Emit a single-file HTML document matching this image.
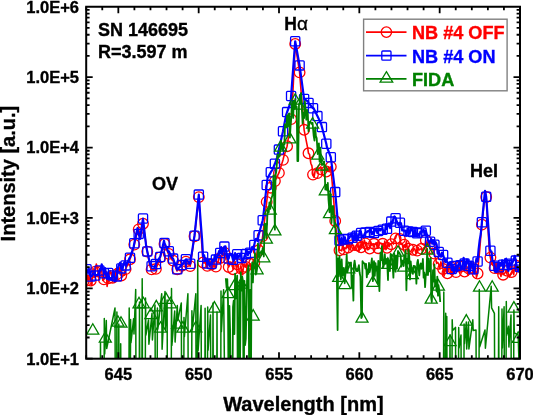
<!DOCTYPE html>
<html><head><meta charset="utf-8"><style>
html,body{margin:0;padding:0;background:#fff;width:533px;height:415px;overflow:hidden}
svg{display:block;will-change:transform;filter:blur(0.35px)}
text{font-family:"Liberation Sans", sans-serif;stroke:currentColor;stroke-width:0.35px;paint-order:stroke}
</style></head><body><svg width="533" height="415" viewBox="0 0 533 415" font-family='"Liberation Sans", sans-serif'><defs><clipPath id="pc"><rect x="86.2" y="6.75" width="433.8" height="351.95"/></clipPath></defs><g clip-path="url(#pc)"><polyline points="86.5,280.6 87.6,275.3 88.7,283.3 89.8,273.8 90.8,280.5 91.9,285.5 93.0,268.4 94.1,277.5 95.2,271.6 96.3,264.0 97.4,267.8 98.5,276.8 99.5,271.9 100.6,268.2 101.7,270.5 102.8,280.5 103.9,279.4 105.0,277.3 106.1,271.6 107.1,286.4 108.2,278.4 109.3,272.6 110.4,270.6 111.5,275.4 112.6,277.7 113.7,278.6 114.8,279.8 115.8,268.8 116.9,274.1 118.0,271.8 119.1,267.3 120.2,274.4 121.3,275.5 122.4,277.0 123.4,275.1 124.5,275.3 125.6,269.1 130.0,259.3 134.0,247.0 134.3,244.6 138.3,228.0 138.7,229.4 140.5,238.0 143.0,223.7 146.4,246.0 147.3,251.6 150.2,267.0 151.6,269.4 154.8,270.0 155.9,268.9 159.7,259.0 160.2,257.4 164.0,243.0 164.5,244.0 168.4,254.0 168.8,253.9 172.2,260.0 173.1,260.6 177.0,271.0 177.3,269.2 181.6,265.7 185.9,261.6 190.2,266.1 194.5,236.2 198.8,197.1 199.9,215.2 200.9,232.3 202.0,247.5 203.1,262.5 204.1,263.0 205.2,261.2 206.3,266.8 207.3,265.9 208.4,263.1 209.5,259.9 210.5,263.9 211.6,264.2 212.7,269.6 213.8,260.6 214.8,267.1 215.9,266.6 217.0,263.1 218.0,262.5 219.1,255.6 220.2,258.0 221.2,262.6 222.3,252.2 223.4,255.3 224.4,252.6 225.5,255.2 226.6,253.6 227.6,264.2 228.7,267.0 229.8,263.0 230.8,262.4 231.9,262.7 233.0,269.2 234.0,263.6 235.1,261.5 236.2,267.2 237.2,264.2 238.3,265.5 239.4,272.8 240.4,273.3 241.5,268.9 242.6,274.8 243.7,264.5 244.7,266.7 245.8,266.9 246.9,262.9 247.9,266.5 249.0,266.2 250.1,263.8 251.1,267.4 252.2,265.9 253.3,259.8 254.3,262.7 255.4,258.9 256.5,256.7 257.5,249.4 258.6,250.3 262.0,241.0 262.7,236.1 266.7,201.9 268.1,191.0 270.8,187.7 274.9,181.1 278.9,172.9 283.0,159.9 283.7,157.0 287.1,146.2 291.1,119.1 291.9,114.0 295.2,44.0 299.6,72.4 304.1,129.8 307.8,148.6 308.5,153.3 309.6,154.6 310.8,163.2 311.9,165.9 313.0,174.6 314.1,177.1 315.2,170.5 316.3,168.4 317.4,173.1 318.5,168.2 319.6,167.9 320.8,166.8 321.9,169.6 323.0,170.3 324.1,170.1 325.2,168.8 326.3,171.5 327.4,171.2 328.5,167.2 329.6,170.6 330.8,166.7 333.7,200.0 335.2,221.0 336.3,231.6 337.4,237.3 338.4,242.5 339.5,250.3 340.6,250.2 341.7,250.8 342.8,244.6 343.8,249.4 344.9,248.0 346.0,248.7 347.1,244.4 348.1,247.5 349.2,242.3 350.3,249.7 351.4,244.2 352.5,245.1 353.5,245.3 354.6,249.8 355.7,246.4 356.8,245.2 357.9,243.4 358.9,251.7 360.0,245.4 361.1,247.3 362.2,241.0 363.2,247.5 364.3,240.0 365.4,243.4 366.5,242.5 367.6,249.8 368.6,249.2 369.7,248.5 370.8,241.9 371.9,245.6 372.9,244.0 374.0,243.8 375.1,244.7 376.2,242.7 377.3,248.1 378.3,248.2 379.4,242.3 380.5,243.5 381.6,243.4 382.7,243.8 383.7,249.7 384.8,241.0 385.9,249.7 387.0,247.8 388.1,243.4 389.1,246.8 390.2,243.9 391.3,244.2 392.4,242.3 393.4,244.1 394.5,238.7 395.6,238.4 396.7,234.3 397.8,234.4 398.8,234.1 399.9,238.9 401.0,244.3 402.1,243.4 403.1,248.4 404.2,244.7 405.3,247.8 406.4,241.3 407.5,249.4 408.5,248.6 409.6,252.0 410.7,251.7 411.8,249.5 412.9,249.8 413.9,248.4 415.0,249.7 416.1,253.7 417.2,250.6 418.2,247.5 419.3,250.0 420.4,249.0 421.5,248.8 422.6,251.7 423.6,247.9 424.7,247.2 425.8,240.2 426.9,245.9 428.0,241.8 429.0,243.0 430.1,248.0 431.2,249.3 432.3,248.1 433.4,251.4 434.4,253.6 435.5,258.2 436.6,263.4 437.7,262.3 438.7,263.9 439.8,268.8 440.9,261.9 442.0,266.1 443.1,269.0 444.1,276.0 445.2,266.9 446.3,271.2 447.4,273.3 448.4,266.3 449.5,265.2 450.6,274.1 451.7,267.6 452.8,275.0 453.9,271.8 454.9,266.2 456.0,272.1 457.1,268.2 458.1,266.0 459.2,270.2 460.3,266.7 461.4,270.2 462.5,268.3 463.6,270.6 464.6,271.5 465.7,265.8 466.8,270.6 467.9,275.1 468.9,268.6 470.0,271.8 471.1,263.2 472.2,268.5 473.3,268.2 474.3,272.3 475.4,267.8 476.5,277.2 477.6,273.5 478.6,261.0 479.7,250.5 480.8,236.1 481.9,224.6 485.2,192.0 486.2,197.0 489.5,254.0 490.4,257.6 491.5,263.8 492.5,264.9 493.6,266.0 494.6,268.1 495.7,263.7 496.8,267.6 497.8,262.4 498.9,268.6 499.9,271.3 501.0,276.5 502.1,269.1 503.1,274.7 504.2,273.9 505.2,272.5 506.3,270.5 507.3,270.8 508.4,273.8 509.4,277.0 510.5,274.3 511.6,272.0 512.6,270.0 513.7,274.6 514.7,264.9 515.8,265.4 516.8,268.9 517.9,268.2 518.9,269.9 520.0,266.9" fill="none" stroke="#ff0000" stroke-width="1.6" stroke-linejoin="round"/><circle cx="86.5" cy="280.6" r="5.3" fill="none" stroke="#ff0000" stroke-width="1.3"/><circle cx="90.8" cy="280.5" r="5.3" fill="none" stroke="#ff0000" stroke-width="1.3"/><circle cx="95.2" cy="271.6" r="5.3" fill="none" stroke="#ff0000" stroke-width="1.3"/><circle cx="99.5" cy="271.9" r="5.3" fill="none" stroke="#ff0000" stroke-width="1.3"/><circle cx="103.9" cy="279.4" r="5.3" fill="none" stroke="#ff0000" stroke-width="1.3"/><circle cx="108.2" cy="278.4" r="5.3" fill="none" stroke="#ff0000" stroke-width="1.3"/><circle cx="112.6" cy="277.7" r="5.3" fill="none" stroke="#ff0000" stroke-width="1.3"/><circle cx="116.9" cy="274.1" r="5.3" fill="none" stroke="#ff0000" stroke-width="1.3"/><circle cx="121.3" cy="275.5" r="5.3" fill="none" stroke="#ff0000" stroke-width="1.3"/><circle cx="125.6" cy="269.1" r="5.3" fill="none" stroke="#ff0000" stroke-width="1.3"/><circle cx="130.0" cy="259.3" r="5.3" fill="none" stroke="#ff0000" stroke-width="1.3"/><circle cx="134.3" cy="244.6" r="5.3" fill="none" stroke="#ff0000" stroke-width="1.3"/><circle cx="138.7" cy="229.4" r="5.3" fill="none" stroke="#ff0000" stroke-width="1.3"/><circle cx="143.0" cy="223.7" r="5.3" fill="none" stroke="#ff0000" stroke-width="1.3"/><circle cx="147.3" cy="251.6" r="5.3" fill="none" stroke="#ff0000" stroke-width="1.3"/><circle cx="151.6" cy="269.4" r="5.3" fill="none" stroke="#ff0000" stroke-width="1.3"/><circle cx="155.9" cy="268.9" r="5.3" fill="none" stroke="#ff0000" stroke-width="1.3"/><circle cx="160.2" cy="257.4" r="5.3" fill="none" stroke="#ff0000" stroke-width="1.3"/><circle cx="164.5" cy="244.0" r="5.3" fill="none" stroke="#ff0000" stroke-width="1.3"/><circle cx="168.8" cy="253.9" r="5.3" fill="none" stroke="#ff0000" stroke-width="1.3"/><circle cx="173.1" cy="260.6" r="5.3" fill="none" stroke="#ff0000" stroke-width="1.3"/><circle cx="177.3" cy="269.2" r="5.3" fill="none" stroke="#ff0000" stroke-width="1.3"/><circle cx="181.6" cy="265.7" r="5.3" fill="none" stroke="#ff0000" stroke-width="1.3"/><circle cx="185.9" cy="261.6" r="5.3" fill="none" stroke="#ff0000" stroke-width="1.3"/><circle cx="190.2" cy="266.1" r="5.3" fill="none" stroke="#ff0000" stroke-width="1.3"/><circle cx="194.5" cy="236.2" r="5.3" fill="none" stroke="#ff0000" stroke-width="1.3"/><circle cx="198.8" cy="197.1" r="5.3" fill="none" stroke="#ff0000" stroke-width="1.3"/><circle cx="203.1" cy="262.5" r="5.3" fill="none" stroke="#ff0000" stroke-width="1.3"/><circle cx="207.3" cy="265.9" r="5.3" fill="none" stroke="#ff0000" stroke-width="1.3"/><circle cx="211.6" cy="264.2" r="5.3" fill="none" stroke="#ff0000" stroke-width="1.3"/><circle cx="215.9" cy="266.6" r="5.3" fill="none" stroke="#ff0000" stroke-width="1.3"/><circle cx="220.2" cy="258.0" r="5.3" fill="none" stroke="#ff0000" stroke-width="1.3"/><circle cx="224.4" cy="252.6" r="5.3" fill="none" stroke="#ff0000" stroke-width="1.3"/><circle cx="228.7" cy="267.0" r="5.3" fill="none" stroke="#ff0000" stroke-width="1.3"/><circle cx="233.0" cy="269.2" r="5.3" fill="none" stroke="#ff0000" stroke-width="1.3"/><circle cx="237.2" cy="264.2" r="5.3" fill="none" stroke="#ff0000" stroke-width="1.3"/><circle cx="241.5" cy="268.9" r="5.3" fill="none" stroke="#ff0000" stroke-width="1.3"/><circle cx="245.8" cy="266.9" r="5.3" fill="none" stroke="#ff0000" stroke-width="1.3"/><circle cx="250.1" cy="263.8" r="5.3" fill="none" stroke="#ff0000" stroke-width="1.3"/><circle cx="254.3" cy="262.7" r="5.3" fill="none" stroke="#ff0000" stroke-width="1.3"/><circle cx="258.6" cy="250.3" r="5.3" fill="none" stroke="#ff0000" stroke-width="1.3"/><circle cx="262.7" cy="236.1" r="5.3" fill="none" stroke="#ff0000" stroke-width="1.3"/><circle cx="266.7" cy="201.9" r="5.3" fill="none" stroke="#ff0000" stroke-width="1.3"/><circle cx="270.8" cy="187.7" r="5.3" fill="none" stroke="#ff0000" stroke-width="1.3"/><circle cx="274.9" cy="181.1" r="5.3" fill="none" stroke="#ff0000" stroke-width="1.3"/><circle cx="278.9" cy="172.9" r="5.3" fill="none" stroke="#ff0000" stroke-width="1.3"/><circle cx="283.0" cy="159.9" r="5.3" fill="none" stroke="#ff0000" stroke-width="1.3"/><circle cx="287.1" cy="146.2" r="5.3" fill="none" stroke="#ff0000" stroke-width="1.3"/><circle cx="291.1" cy="119.1" r="5.3" fill="none" stroke="#ff0000" stroke-width="1.3"/><circle cx="295.2" cy="44.0" r="5.3" fill="none" stroke="#ff0000" stroke-width="1.3"/><circle cx="299.6" cy="72.4" r="5.3" fill="none" stroke="#ff0000" stroke-width="1.3"/><circle cx="304.1" cy="129.8" r="5.3" fill="none" stroke="#ff0000" stroke-width="1.3"/><circle cx="308.5" cy="153.3" r="5.3" fill="none" stroke="#ff0000" stroke-width="1.3"/><circle cx="313.0" cy="174.6" r="5.3" fill="none" stroke="#ff0000" stroke-width="1.3"/><circle cx="317.4" cy="173.1" r="5.3" fill="none" stroke="#ff0000" stroke-width="1.3"/><circle cx="321.9" cy="169.6" r="5.3" fill="none" stroke="#ff0000" stroke-width="1.3"/><circle cx="326.3" cy="171.5" r="5.3" fill="none" stroke="#ff0000" stroke-width="1.3"/><circle cx="330.8" cy="166.7" r="5.3" fill="none" stroke="#ff0000" stroke-width="1.3"/><circle cx="335.2" cy="221.0" r="5.3" fill="none" stroke="#ff0000" stroke-width="1.3"/><circle cx="339.5" cy="250.3" r="5.3" fill="none" stroke="#ff0000" stroke-width="1.3"/><circle cx="343.8" cy="249.4" r="5.3" fill="none" stroke="#ff0000" stroke-width="1.3"/><circle cx="348.1" cy="247.5" r="5.3" fill="none" stroke="#ff0000" stroke-width="1.3"/><circle cx="352.5" cy="245.1" r="5.3" fill="none" stroke="#ff0000" stroke-width="1.3"/><circle cx="356.8" cy="245.2" r="5.3" fill="none" stroke="#ff0000" stroke-width="1.3"/><circle cx="361.1" cy="247.3" r="5.3" fill="none" stroke="#ff0000" stroke-width="1.3"/><circle cx="365.4" cy="243.4" r="5.3" fill="none" stroke="#ff0000" stroke-width="1.3"/><circle cx="369.7" cy="248.5" r="5.3" fill="none" stroke="#ff0000" stroke-width="1.3"/><circle cx="374.0" cy="243.8" r="5.3" fill="none" stroke="#ff0000" stroke-width="1.3"/><circle cx="378.3" cy="248.2" r="5.3" fill="none" stroke="#ff0000" stroke-width="1.3"/><circle cx="382.7" cy="243.8" r="5.3" fill="none" stroke="#ff0000" stroke-width="1.3"/><circle cx="387.0" cy="247.8" r="5.3" fill="none" stroke="#ff0000" stroke-width="1.3"/><circle cx="391.3" cy="244.2" r="5.3" fill="none" stroke="#ff0000" stroke-width="1.3"/><circle cx="395.6" cy="238.4" r="5.3" fill="none" stroke="#ff0000" stroke-width="1.3"/><circle cx="399.9" cy="238.9" r="5.3" fill="none" stroke="#ff0000" stroke-width="1.3"/><circle cx="404.2" cy="244.7" r="5.3" fill="none" stroke="#ff0000" stroke-width="1.3"/><circle cx="408.5" cy="248.6" r="5.3" fill="none" stroke="#ff0000" stroke-width="1.3"/><circle cx="412.9" cy="249.8" r="5.3" fill="none" stroke="#ff0000" stroke-width="1.3"/><circle cx="417.2" cy="250.6" r="5.3" fill="none" stroke="#ff0000" stroke-width="1.3"/><circle cx="421.5" cy="248.8" r="5.3" fill="none" stroke="#ff0000" stroke-width="1.3"/><circle cx="425.8" cy="240.2" r="5.3" fill="none" stroke="#ff0000" stroke-width="1.3"/><circle cx="430.1" cy="248.0" r="5.3" fill="none" stroke="#ff0000" stroke-width="1.3"/><circle cx="434.4" cy="253.6" r="5.3" fill="none" stroke="#ff0000" stroke-width="1.3"/><circle cx="438.7" cy="263.9" r="5.3" fill="none" stroke="#ff0000" stroke-width="1.3"/><circle cx="443.1" cy="269.0" r="5.3" fill="none" stroke="#ff0000" stroke-width="1.3"/><circle cx="447.4" cy="273.3" r="5.3" fill="none" stroke="#ff0000" stroke-width="1.3"/><circle cx="451.7" cy="267.6" r="5.3" fill="none" stroke="#ff0000" stroke-width="1.3"/><circle cx="456.0" cy="272.1" r="5.3" fill="none" stroke="#ff0000" stroke-width="1.3"/><circle cx="460.3" cy="266.7" r="5.3" fill="none" stroke="#ff0000" stroke-width="1.3"/><circle cx="464.6" cy="271.5" r="5.3" fill="none" stroke="#ff0000" stroke-width="1.3"/><circle cx="468.9" cy="268.6" r="5.3" fill="none" stroke="#ff0000" stroke-width="1.3"/><circle cx="473.3" cy="268.2" r="5.3" fill="none" stroke="#ff0000" stroke-width="1.3"/><circle cx="477.6" cy="273.5" r="5.3" fill="none" stroke="#ff0000" stroke-width="1.3"/><circle cx="481.9" cy="224.6" r="5.3" fill="none" stroke="#ff0000" stroke-width="1.3"/><circle cx="486.2" cy="197.0" r="5.3" fill="none" stroke="#ff0000" stroke-width="1.3"/><circle cx="490.4" cy="257.6" r="5.3" fill="none" stroke="#ff0000" stroke-width="1.3"/><circle cx="494.6" cy="268.1" r="5.3" fill="none" stroke="#ff0000" stroke-width="1.3"/><circle cx="498.9" cy="268.6" r="5.3" fill="none" stroke="#ff0000" stroke-width="1.3"/><circle cx="503.1" cy="274.7" r="5.3" fill="none" stroke="#ff0000" stroke-width="1.3"/><circle cx="507.3" cy="270.8" r="5.3" fill="none" stroke="#ff0000" stroke-width="1.3"/><circle cx="511.6" cy="272.0" r="5.3" fill="none" stroke="#ff0000" stroke-width="1.3"/><circle cx="515.8" cy="265.4" r="5.3" fill="none" stroke="#ff0000" stroke-width="1.3"/><circle cx="520.0" cy="266.9" r="5.3" fill="none" stroke="#ff0000" stroke-width="1.3"/><polyline points="86.5,269.3 87.6,272.2 88.7,268.1 89.8,274.8 90.8,276.5 91.9,276.0 93.0,273.8 94.1,273.4 95.2,275.6 96.3,275.0 97.4,275.1 98.5,273.6 99.5,270.6 100.6,270.6 101.7,264.3 102.8,268.2 103.9,273.2 105.0,268.0 106.1,274.5 107.1,278.9 108.2,273.0 109.3,278.4 110.4,278.9 111.5,279.8 112.6,275.4 113.7,271.7 114.8,281.4 115.8,278.9 116.9,276.4 118.0,267.7 119.1,264.7 120.2,262.6 121.3,268.4 122.4,270.3 123.4,264.3 124.5,262.0 125.6,265.4 126.0,266.0 129.5,258.0 130.0,257.7 133.7,246.5 134.3,243.3 137.5,228.0 138.7,233.9 140.0,239.0 143.0,218.5 146.2,246.5 147.3,251.4 150.2,265.0 151.6,266.3 154.8,267.0 155.9,264.1 159.7,257.5 160.2,257.0 164.0,240.7 164.5,243.1 168.4,252.0 168.8,251.2 172.2,258.0 173.1,258.6 177.0,269.6 177.3,269.3 181.6,265.1 185.9,259.3 190.2,263.7 194.5,235.7 198.8,194.6 199.9,210.9 200.9,224.7 202.0,238.4 203.1,256.7 204.1,255.2 205.2,260.4 206.3,258.7 207.3,263.6 208.4,261.1 209.5,266.1 210.5,263.4 211.6,264.0 212.7,260.9 213.8,261.5 214.8,255.3 215.9,259.6 217.0,256.7 218.0,255.4 219.1,251.1 220.2,253.0 221.2,247.0 222.3,254.3 223.4,248.3 224.4,246.6 225.5,246.3 226.6,253.8 227.6,259.1 228.7,258.6 229.8,253.5 230.8,253.8 231.9,255.5 233.0,259.7 234.0,260.8 235.1,253.2 236.2,257.9 237.2,254.3 238.3,257.2 239.4,256.6 240.4,253.8 241.5,257.9 242.6,262.2 243.7,259.3 244.7,255.2 245.8,254.1 246.9,250.7 247.9,255.1 249.0,252.0 250.1,252.8 251.1,251.7 252.2,246.9 253.3,248.4 254.3,244.9 255.4,239.3 256.5,238.7 257.5,241.1 258.6,235.3 262.7,220.3 263.1,218.0 266.7,185.0 267.6,178.1 270.8,172.2 272.3,170.0 274.9,163.8 276.9,158.0 278.9,149.6 281.5,138.0 283.0,131.3 286.1,115.0 287.1,112.0 290.6,102.5 291.1,96.0 295.2,41.3 299.6,65.4 304.1,98.9 308.0,101.5 308.5,102.9 313.0,108.2 313.6,108.2 317.4,116.1 321.0,123.5 321.9,127.1 326.3,143.7 326.9,147.0 330.8,157.2 335.2,192.1 339.5,240.4 340.6,243.7 341.7,237.9 342.8,242.9 343.8,239.1 344.9,237.3 346.0,243.4 347.1,241.5 348.1,239.2 349.2,238.0 350.3,236.1 351.4,233.3 352.5,237.7 353.5,240.8 354.6,232.2 355.7,239.2 356.8,235.7 357.9,239.5 358.9,235.0 360.0,230.5 361.1,233.0 362.2,236.4 363.2,237.3 364.3,234.6 365.4,232.6 366.5,232.5 367.6,231.2 368.6,230.8 369.7,232.1 370.8,229.5 371.9,234.3 372.9,232.2 374.0,233.1 375.1,229.7 376.2,228.3 377.3,233.1 378.3,231.0 379.4,228.7 380.5,230.3 381.6,228.3 382.7,229.7 383.7,233.0 384.8,233.1 385.9,224.4 387.0,228.8 388.1,224.1 389.1,223.5 390.2,228.1 391.3,221.6 392.4,223.5 393.4,218.4 394.5,216.4 395.6,218.3 396.7,221.1 397.8,223.8 398.8,225.7 399.9,222.7 401.0,223.2 402.1,230.3 403.1,230.4 404.2,230.7 405.3,230.7 406.4,235.7 407.5,228.6 408.5,231.4 409.6,233.7 410.7,227.8 411.8,228.8 412.9,232.1 413.9,236.3 415.0,229.9 416.1,235.5 417.2,233.3 418.2,234.1 419.3,236.2 420.4,231.5 421.5,232.6 422.6,230.6 423.6,229.7 424.7,234.7 425.8,230.7 426.9,234.5 428.0,240.6 429.0,242.6 430.1,241.7 431.2,238.9 432.3,243.7 433.4,240.2 434.4,244.8 435.5,242.1 436.6,244.2 437.7,253.6 438.7,251.9 439.8,255.4 440.9,256.6 442.0,252.7 443.1,255.0 444.1,258.2 445.2,262.0 446.3,259.4 447.4,262.7 448.4,265.2 449.5,262.4 450.6,262.2 451.7,269.1 452.8,265.4 453.9,272.6 454.9,267.7 456.0,266.1 457.1,271.3 458.1,265.1 459.2,262.6 460.3,265.2 461.4,268.5 462.5,268.6 463.6,257.8 464.6,263.6 465.7,266.4 466.8,259.5 467.9,260.4 468.9,265.9 470.0,271.6 471.1,261.6 472.2,265.0 473.3,269.2 474.3,273.5 475.4,264.3 476.5,258.5 477.6,261.6 478.6,249.3 479.7,240.1 480.8,233.8 481.9,222.3 485.0,190.8 486.2,196.8 489.9,248.7 490.4,250.8 491.5,251.7 492.5,261.2 493.6,261.2 494.6,265.8 495.7,272.2 496.8,271.8 497.8,264.3 498.9,267.3 499.9,263.5 501.0,265.8 502.1,260.3 503.1,264.8 504.2,266.8 505.2,259.0 506.3,258.7 507.3,265.0 508.4,270.9 509.4,261.8 510.5,265.3 511.6,263.8 512.6,262.3 513.7,259.8 514.7,255.8 515.8,260.6 516.8,267.5 517.9,269.8 518.9,271.4 520.0,267.0" fill="none" stroke="#0000ff" stroke-width="2.2" stroke-linejoin="round"/><rect x="81.9" y="264.7" width="9.2" height="9.2" rx="1" fill="none" stroke="#0000ff" stroke-width="1.3"/><rect x="86.2" y="271.9" width="9.2" height="9.2" rx="1" fill="none" stroke="#0000ff" stroke-width="1.3"/><rect x="90.6" y="271.0" width="9.2" height="9.2" rx="1" fill="none" stroke="#0000ff" stroke-width="1.3"/><rect x="94.9" y="265.9" width="9.2" height="9.2" rx="1" fill="none" stroke="#0000ff" stroke-width="1.3"/><rect x="99.3" y="268.6" width="9.2" height="9.2" rx="1" fill="none" stroke="#0000ff" stroke-width="1.3"/><rect x="103.6" y="268.4" width="9.2" height="9.2" rx="1" fill="none" stroke="#0000ff" stroke-width="1.3"/><rect x="108.0" y="270.8" width="9.2" height="9.2" rx="1" fill="none" stroke="#0000ff" stroke-width="1.3"/><rect x="112.3" y="271.8" width="9.2" height="9.2" rx="1" fill="none" stroke="#0000ff" stroke-width="1.3"/><rect x="116.7" y="263.8" width="9.2" height="9.2" rx="1" fill="none" stroke="#0000ff" stroke-width="1.3"/><rect x="121.0" y="260.8" width="9.2" height="9.2" rx="1" fill="none" stroke="#0000ff" stroke-width="1.3"/><rect x="125.4" y="253.1" width="9.2" height="9.2" rx="1" fill="none" stroke="#0000ff" stroke-width="1.3"/><rect x="129.7" y="238.7" width="9.2" height="9.2" rx="1" fill="none" stroke="#0000ff" stroke-width="1.3"/><rect x="134.1" y="229.3" width="9.2" height="9.2" rx="1" fill="none" stroke="#0000ff" stroke-width="1.3"/><rect x="138.4" y="213.9" width="9.2" height="9.2" rx="1" fill="none" stroke="#0000ff" stroke-width="1.3"/><rect x="142.7" y="246.8" width="9.2" height="9.2" rx="1" fill="none" stroke="#0000ff" stroke-width="1.3"/><rect x="147.0" y="261.7" width="9.2" height="9.2" rx="1" fill="none" stroke="#0000ff" stroke-width="1.3"/><rect x="151.3" y="259.5" width="9.2" height="9.2" rx="1" fill="none" stroke="#0000ff" stroke-width="1.3"/><rect x="155.6" y="252.4" width="9.2" height="9.2" rx="1" fill="none" stroke="#0000ff" stroke-width="1.3"/><rect x="159.9" y="238.5" width="9.2" height="9.2" rx="1" fill="none" stroke="#0000ff" stroke-width="1.3"/><rect x="164.2" y="246.6" width="9.2" height="9.2" rx="1" fill="none" stroke="#0000ff" stroke-width="1.3"/><rect x="168.5" y="254.0" width="9.2" height="9.2" rx="1" fill="none" stroke="#0000ff" stroke-width="1.3"/><rect x="172.7" y="264.7" width="9.2" height="9.2" rx="1" fill="none" stroke="#0000ff" stroke-width="1.3"/><rect x="177.0" y="260.5" width="9.2" height="9.2" rx="1" fill="none" stroke="#0000ff" stroke-width="1.3"/><rect x="181.3" y="254.7" width="9.2" height="9.2" rx="1" fill="none" stroke="#0000ff" stroke-width="1.3"/><rect x="185.6" y="259.1" width="9.2" height="9.2" rx="1" fill="none" stroke="#0000ff" stroke-width="1.3"/><rect x="189.9" y="231.1" width="9.2" height="9.2" rx="1" fill="none" stroke="#0000ff" stroke-width="1.3"/><rect x="194.2" y="190.0" width="9.2" height="9.2" rx="1" fill="none" stroke="#0000ff" stroke-width="1.3"/><rect x="198.5" y="252.1" width="9.2" height="9.2" rx="1" fill="none" stroke="#0000ff" stroke-width="1.3"/><rect x="202.7" y="259.0" width="9.2" height="9.2" rx="1" fill="none" stroke="#0000ff" stroke-width="1.3"/><rect x="207.0" y="259.4" width="9.2" height="9.2" rx="1" fill="none" stroke="#0000ff" stroke-width="1.3"/><rect x="211.3" y="255.0" width="9.2" height="9.2" rx="1" fill="none" stroke="#0000ff" stroke-width="1.3"/><rect x="215.6" y="248.4" width="9.2" height="9.2" rx="1" fill="none" stroke="#0000ff" stroke-width="1.3"/><rect x="219.8" y="242.0" width="9.2" height="9.2" rx="1" fill="none" stroke="#0000ff" stroke-width="1.3"/><rect x="224.1" y="254.0" width="9.2" height="9.2" rx="1" fill="none" stroke="#0000ff" stroke-width="1.3"/><rect x="228.4" y="255.1" width="9.2" height="9.2" rx="1" fill="none" stroke="#0000ff" stroke-width="1.3"/><rect x="232.6" y="249.7" width="9.2" height="9.2" rx="1" fill="none" stroke="#0000ff" stroke-width="1.3"/><rect x="236.9" y="253.3" width="9.2" height="9.2" rx="1" fill="none" stroke="#0000ff" stroke-width="1.3"/><rect x="241.2" y="249.5" width="9.2" height="9.2" rx="1" fill="none" stroke="#0000ff" stroke-width="1.3"/><rect x="245.5" y="248.2" width="9.2" height="9.2" rx="1" fill="none" stroke="#0000ff" stroke-width="1.3"/><rect x="249.7" y="240.3" width="9.2" height="9.2" rx="1" fill="none" stroke="#0000ff" stroke-width="1.3"/><rect x="254.0" y="230.7" width="9.2" height="9.2" rx="1" fill="none" stroke="#0000ff" stroke-width="1.3"/><rect x="258.1" y="215.7" width="9.2" height="9.2" rx="1" fill="none" stroke="#0000ff" stroke-width="1.3"/><rect x="262.1" y="180.4" width="9.2" height="9.2" rx="1" fill="none" stroke="#0000ff" stroke-width="1.3"/><rect x="266.2" y="167.7" width="9.2" height="9.2" rx="1" fill="none" stroke="#0000ff" stroke-width="1.3"/><rect x="270.3" y="159.2" width="9.2" height="9.2" rx="1" fill="none" stroke="#0000ff" stroke-width="1.3"/><rect x="274.3" y="145.0" width="9.2" height="9.2" rx="1" fill="none" stroke="#0000ff" stroke-width="1.3"/><rect x="278.4" y="126.7" width="9.2" height="9.2" rx="1" fill="none" stroke="#0000ff" stroke-width="1.3"/><rect x="282.5" y="107.5" width="9.2" height="9.2" rx="1" fill="none" stroke="#0000ff" stroke-width="1.3"/><rect x="286.5" y="91.4" width="9.2" height="9.2" rx="1" fill="none" stroke="#0000ff" stroke-width="1.3"/><rect x="290.6" y="36.7" width="9.2" height="9.2" rx="1" fill="none" stroke="#0000ff" stroke-width="1.3"/><rect x="295.0" y="60.8" width="9.2" height="9.2" rx="1" fill="none" stroke="#0000ff" stroke-width="1.3"/><rect x="299.5" y="94.3" width="9.2" height="9.2" rx="1" fill="none" stroke="#0000ff" stroke-width="1.3"/><rect x="303.9" y="98.3" width="9.2" height="9.2" rx="1" fill="none" stroke="#0000ff" stroke-width="1.3"/><rect x="308.4" y="103.6" width="9.2" height="9.2" rx="1" fill="none" stroke="#0000ff" stroke-width="1.3"/><rect x="312.8" y="111.5" width="9.2" height="9.2" rx="1" fill="none" stroke="#0000ff" stroke-width="1.3"/><rect x="317.3" y="122.5" width="9.2" height="9.2" rx="1" fill="none" stroke="#0000ff" stroke-width="1.3"/><rect x="321.7" y="139.1" width="9.2" height="9.2" rx="1" fill="none" stroke="#0000ff" stroke-width="1.3"/><rect x="326.2" y="152.6" width="9.2" height="9.2" rx="1" fill="none" stroke="#0000ff" stroke-width="1.3"/><rect x="330.6" y="187.5" width="9.2" height="9.2" rx="1" fill="none" stroke="#0000ff" stroke-width="1.3"/><rect x="334.9" y="235.8" width="9.2" height="9.2" rx="1" fill="none" stroke="#0000ff" stroke-width="1.3"/><rect x="339.2" y="234.5" width="9.2" height="9.2" rx="1" fill="none" stroke="#0000ff" stroke-width="1.3"/><rect x="343.5" y="234.6" width="9.2" height="9.2" rx="1" fill="none" stroke="#0000ff" stroke-width="1.3"/><rect x="347.9" y="233.1" width="9.2" height="9.2" rx="1" fill="none" stroke="#0000ff" stroke-width="1.3"/><rect x="352.2" y="231.1" width="9.2" height="9.2" rx="1" fill="none" stroke="#0000ff" stroke-width="1.3"/><rect x="356.5" y="228.4" width="9.2" height="9.2" rx="1" fill="none" stroke="#0000ff" stroke-width="1.3"/><rect x="360.8" y="228.0" width="9.2" height="9.2" rx="1" fill="none" stroke="#0000ff" stroke-width="1.3"/><rect x="365.1" y="227.5" width="9.2" height="9.2" rx="1" fill="none" stroke="#0000ff" stroke-width="1.3"/><rect x="369.4" y="228.5" width="9.2" height="9.2" rx="1" fill="none" stroke="#0000ff" stroke-width="1.3"/><rect x="373.7" y="226.4" width="9.2" height="9.2" rx="1" fill="none" stroke="#0000ff" stroke-width="1.3"/><rect x="378.1" y="225.1" width="9.2" height="9.2" rx="1" fill="none" stroke="#0000ff" stroke-width="1.3"/><rect x="382.4" y="224.2" width="9.2" height="9.2" rx="1" fill="none" stroke="#0000ff" stroke-width="1.3"/><rect x="386.7" y="217.0" width="9.2" height="9.2" rx="1" fill="none" stroke="#0000ff" stroke-width="1.3"/><rect x="391.0" y="213.7" width="9.2" height="9.2" rx="1" fill="none" stroke="#0000ff" stroke-width="1.3"/><rect x="395.3" y="218.1" width="9.2" height="9.2" rx="1" fill="none" stroke="#0000ff" stroke-width="1.3"/><rect x="399.6" y="226.1" width="9.2" height="9.2" rx="1" fill="none" stroke="#0000ff" stroke-width="1.3"/><rect x="403.9" y="226.8" width="9.2" height="9.2" rx="1" fill="none" stroke="#0000ff" stroke-width="1.3"/><rect x="408.3" y="227.5" width="9.2" height="9.2" rx="1" fill="none" stroke="#0000ff" stroke-width="1.3"/><rect x="412.6" y="228.7" width="9.2" height="9.2" rx="1" fill="none" stroke="#0000ff" stroke-width="1.3"/><rect x="416.9" y="228.0" width="9.2" height="9.2" rx="1" fill="none" stroke="#0000ff" stroke-width="1.3"/><rect x="421.2" y="226.1" width="9.2" height="9.2" rx="1" fill="none" stroke="#0000ff" stroke-width="1.3"/><rect x="425.5" y="237.1" width="9.2" height="9.2" rx="1" fill="none" stroke="#0000ff" stroke-width="1.3"/><rect x="429.8" y="240.2" width="9.2" height="9.2" rx="1" fill="none" stroke="#0000ff" stroke-width="1.3"/><rect x="434.1" y="247.3" width="9.2" height="9.2" rx="1" fill="none" stroke="#0000ff" stroke-width="1.3"/><rect x="438.5" y="250.4" width="9.2" height="9.2" rx="1" fill="none" stroke="#0000ff" stroke-width="1.3"/><rect x="442.8" y="258.1" width="9.2" height="9.2" rx="1" fill="none" stroke="#0000ff" stroke-width="1.3"/><rect x="447.1" y="264.5" width="9.2" height="9.2" rx="1" fill="none" stroke="#0000ff" stroke-width="1.3"/><rect x="451.4" y="261.5" width="9.2" height="9.2" rx="1" fill="none" stroke="#0000ff" stroke-width="1.3"/><rect x="455.7" y="260.6" width="9.2" height="9.2" rx="1" fill="none" stroke="#0000ff" stroke-width="1.3"/><rect x="460.0" y="259.0" width="9.2" height="9.2" rx="1" fill="none" stroke="#0000ff" stroke-width="1.3"/><rect x="464.3" y="261.3" width="9.2" height="9.2" rx="1" fill="none" stroke="#0000ff" stroke-width="1.3"/><rect x="468.7" y="264.6" width="9.2" height="9.2" rx="1" fill="none" stroke="#0000ff" stroke-width="1.3"/><rect x="473.0" y="256.9" width="9.2" height="9.2" rx="1" fill="none" stroke="#0000ff" stroke-width="1.3"/><rect x="477.3" y="217.7" width="9.2" height="9.2" rx="1" fill="none" stroke="#0000ff" stroke-width="1.3"/><rect x="481.6" y="192.2" width="9.2" height="9.2" rx="1" fill="none" stroke="#0000ff" stroke-width="1.3"/><rect x="485.8" y="246.2" width="9.2" height="9.2" rx="1" fill="none" stroke="#0000ff" stroke-width="1.3"/><rect x="490.0" y="261.2" width="9.2" height="9.2" rx="1" fill="none" stroke="#0000ff" stroke-width="1.3"/><rect x="494.3" y="262.7" width="9.2" height="9.2" rx="1" fill="none" stroke="#0000ff" stroke-width="1.3"/><rect x="498.5" y="260.2" width="9.2" height="9.2" rx="1" fill="none" stroke="#0000ff" stroke-width="1.3"/><rect x="502.7" y="260.4" width="9.2" height="9.2" rx="1" fill="none" stroke="#0000ff" stroke-width="1.3"/><rect x="506.9" y="259.1" width="9.2" height="9.2" rx="1" fill="none" stroke="#0000ff" stroke-width="1.3"/><rect x="511.2" y="256.0" width="9.2" height="9.2" rx="1" fill="none" stroke="#0000ff" stroke-width="1.3"/><rect x="515.4" y="262.4" width="9.2" height="9.2" rx="1" fill="none" stroke="#0000ff" stroke-width="1.3"/><polyline points="86.5,420.0 100.2,420.0 100.5,342.7 100.9,420.0 104.0,420.0 104.3,318.6 104.7,354.0 106.3,320.5 106.7,348.5 115.0,308.0 115.4,420.0 116.6,420.0 116.9,312.0 117.3,420.0 118.5,420.0 118.8,324.0 119.2,420.0 120.4,420.0 120.7,343.7 121.1,420.0 128.8,420.0 129.2,308.0 129.6,420.0 130.2,420.0 130.6,319.6 131.0,342.7 133.6,318.7 134.0,334.0 135.7,289.5 136.1,420.0 139.2,420.0 139.5,302.0 139.9,420.0 141.8,420.0 142.2,278.7 142.6,420.0 145.2,420.0 145.5,298.1 145.9,335.0 148.5,320.0 148.9,344.2 152.0,313.3 152.4,340.0 155.0,305.0 155.4,420.0 157.1,420.0 157.4,307.9 157.8,329.2 161.7,293.8 162.1,349.3 165.0,291.6 165.4,330.0 167.1,300.0 167.5,420.0 171.2,420.0 171.5,288.4 171.9,345.5 174.7,311.1 175.1,342.1 177.3,305.6 177.7,320.7 181.3,303.0 181.7,420.0 183.7,420.0 184.0,317.5 184.4,336.7 187.9,293.7 188.3,420.0 191.6,420.0 191.9,310.8 192.3,330.0 195.8,293.7 196.2,420.0 197.3,420.0 197.7,260.6 198.1,350.8 201.1,305.6 201.5,420.0 204.8,420.0 205.1,308.2 205.5,420.0 207.3,420.0 207.7,306.9 208.1,350.2 210.5,315.0 210.9,420.0 212.7,420.0 213.0,303.0 213.4,420.0 216.7,420.0 217.0,312.0 217.4,420.0 220.7,420.0 221.0,291.0 221.4,331.6 223.6,289.7 224.0,324.7 225.0,420.0" fill="none" stroke="#008000" stroke-width="1.5" stroke-linejoin="round"/><polyline points="225.8,278.3 226.6,287.9 227.3,279.1 228.0,301.2 228.7,420.0 229.4,305.8 230.1,329.7 230.8,420.0 231.6,420.0 232.3,420.0 233.0,306.8 233.7,300.7 234.4,334.1 235.1,273.6 235.8,298.5 236.5,287.5 237.2,275.6 237.9,420.0 238.7,420.0 239.4,282.5 240.1,357.7 240.8,272.5 241.5,290.7 242.2,276.6 242.9,280.6 243.7,420.0 244.4,280.8 245.1,345.1 245.8,339.0 246.5,305.9 247.2,272.4 247.9,268.8 248.6,265.4 249.3,420.0 250.1,289.8 250.8,420.0 251.5,274.1 252.2,262.5 252.9,282.4 253.6,263.8 254.3,262.5 255.0,253.2 255.8,274.5 256.5,272.7 257.1,268.5 257.9,243.6 258.6,247.5 259.3,257.4 260.0,252.9 260.6,252.9 261.3,251.1 262.0,254.0 262.7,248.1 263.3,251.4 263.8,256.5 264.7,223.4 265.4,225.2 266.1,223.9 266.4,238.0 267.4,215.3 268.1,209.2 268.8,212.3 269.4,202.5 270.3,208.9 270.8,201.6 271.5,198.1 272.2,196.0 272.8,192.8 273.5,175.3 274.2,199.5 274.9,229.7 275.5,175.2 276.2,172.1 276.9,163.8 277.6,154.5 278.3,157.6 278.9,155.9 279.6,156.2 280.6,146.0 281.0,140.7 281.6,146.5 282.3,150.0 283.0,148.5 283.7,144.4 284.4,144.5 285.0,124.1 285.7,125.8 286.4,127.5 287.1,115.5 287.7,126.8 288.4,115.5 289.1,113.3 289.9,137.7 290.5,127.2 291.1,119.4 291.8,105.0 292.5,101.6 293.2,117.9 293.8,100.9 294.5,108.9 295.2,99.0 295.9,108.0 296.7,106.7 297.4,161.0 298.2,161.0 299.0,104.0 299.6,103.3 300.4,95.4 301.1,93.0 301.9,110.3 302.6,123.5 303.4,112.9 304.1,118.2 304.8,101.2 305.6,109.7 306.3,119.8 307.1,109.8 307.8,113.3 308.5,131.3 309.3,122.7 310.0,121.7 310.8,122.2 311.5,123.8 312.6,122.8 313.0,128.1 313.7,135.8 314.5,140.7 315.2,127.5 315.9,136.2 316.7,138.1 317.7,154.0 318.2,146.8 318.9,143.4 319.6,161.6 320.4,147.6 321.1,159.8 322.0,165.0 322.6,163.7 323.4,164.2 324.1,161.3 324.8,174.2 325.3,189.5 326.3,185.0 327.1,190.3 327.8,182.9 328.5,199.6 329.5,212.3 330.0,194.0 330.8,196.4 331.5,223.0 332.2,208.9 333.0,205.8 333.7,213.5 334.5,226.6 335.4,228.3 335.9,241.1 336.6,257.6 337.6,330.0 338.1,258.4 338.7,276.1 339.5,256.1 340.2,267.8 340.9,279.4 341.7,259.5 342.4,275.6 343.1,270.1 343.8,267.8 344.7,283.3 345.3,275.5 346.0,269.1 346.7,254.5 347.4,272.3 348.1,268.6 348.8,267.5 349.6,262.9 350.3,262.9 351.0,262.4 351.7,287.9 352.5,275.6 353.4,300.6 353.9,265.3 354.6,260.6 355.3,265.8 356.1,271.0 356.8,269.1 357.5,271.1 358.2,267.9 358.9,265.2 359.6,272.5 360.4,276.6 361.3,318.0 362.0,316.8 362.5,261.2 363.2,262.7 364.0,263.3 364.7,263.3 365.4,268.7 366.1,264.0 366.8,277.3 367.6,269.7 368.3,273.9 369.0,262.9 369.7,272.2 370.4,268.3 371.1,264.5 371.9,258.5 372.9,281.1 373.3,274.6 374.0,261.2 374.8,275.9 375.5,263.1 376.2,270.6 376.9,266.7 377.6,283.3 378.3,260.8 379.4,291.0 379.8,272.7 380.5,252.7 381.2,260.1 381.9,246.1 382.7,261.7 383.4,267.1 384.1,263.4 384.8,254.1 385.5,263.8 386.2,259.9 387.0,258.9 388.0,280.0 388.4,260.4 389.1,264.8 389.9,271.1 390.6,253.9 391.3,254.6 392.0,258.1 392.7,265.6 393.4,277.6 394.2,253.6 394.9,257.1 395.6,271.7 396.3,255.7 397.0,268.6 398.0,251.0 398.5,253.4 399.2,252.5 399.9,254.0 400.6,255.0 401.4,266.6 402.1,260.4 402.8,262.0 403.7,266.0 404.2,257.3 404.9,255.6 405.7,250.3 406.4,290.3 407.1,258.8 407.8,263.7 408.5,249.5 409.3,257.2 410.0,279.4 410.7,261.4 411.4,268.5 412.4,273.3 412.9,273.8 413.6,265.8 414.3,266.3 415.0,266.2 415.7,270.3 416.4,283.7 417.2,262.9 417.9,259.8 418.6,267.1 419.3,275.4 420.1,265.6 420.8,263.3 421.5,268.8 422.2,267.8 422.9,259.0 423.6,277.6 424.4,272.7 425.1,287.2 425.8,274.4 426.5,274.9 427.2,249.0 428.0,275.0 428.7,258.6 429.4,271.3 430.1,271.0 430.8,257.9 431.2,297.8 431.8,302.0 433.0,270.2 433.7,281.5 434.4,264.3 435.1,286.0 435.9,280.4 436.6,291.5 437.3,276.6 438.0,295.6 438.4,284.8 439.5,291.6 440.2,302.0" fill="none" stroke="#008000" stroke-width="1.8" stroke-linejoin="round"/><polyline points="441.0,420.0 443.4,420.0 443.8,292.0 444.2,420.0 445.3,420.0 445.7,313.3 446.1,343.6 446.8,316.5 447.2,420.0 449.6,420.0 450.0,335.0 450.4,420.0 451.8,420.0 452.2,319.8 452.6,330.6 455.5,327.4 455.9,420.0 458.3,420.0 458.7,327.4 459.1,348.0 461.0,335.0 461.4,420.0 463.8,420.0 464.1,324.0 464.5,343.6 466.3,322.0 466.7,349.0 468.5,322.0 468.9,349.0 472.8,319.8 473.2,330.6 476.0,330.0 476.4,420.0 478.9,420.0 479.3,289.5 479.7,346.8 485.0,330.0 485.4,348.3 491.2,286.2 491.6,307.9 494.4,313.3 494.8,420.0 498.3,420.0 498.7,306.8 499.1,420.0 501.6,420.0 502.0,309.0 502.4,348.0 504.1,306.8 504.5,420.0 505.9,420.0 506.3,301.4 506.7,335.0 508.5,326.3 508.9,347.1 511.0,315.0 511.4,420.0 513.5,420.0 513.9,310.0 514.3,332.8 518.2,335.0 518.6,350.4 521.0,420.0" fill="none" stroke="#008000" stroke-width="1.5" stroke-linejoin="round"/><path d="M92.8,323.8 L98.8,334.2 L86.8,334.2 Z" fill="none" stroke="#008000" stroke-width="1.3"/><path d="M105.3,331.8 L111.3,342.2 L99.3,342.2 Z" fill="none" stroke="#008000" stroke-width="1.3"/><path d="M117.9,315.8 L123.9,326.2 L111.9,326.2 Z" fill="none" stroke="#008000" stroke-width="1.3"/><path d="M121.0,316.8 L127.0,327.2 L115.0,327.2 Z" fill="none" stroke="#008000" stroke-width="1.3"/><path d="M139.0,297.2 L145.0,307.8 L133.0,307.8 Z" fill="none" stroke="#008000" stroke-width="1.3"/><path d="M143.3,297.2 L149.3,307.8 L137.3,307.8 Z" fill="none" stroke="#008000" stroke-width="1.3"/><path d="M150.9,308.1 L156.9,318.6 L144.9,318.6 Z" fill="none" stroke="#008000" stroke-width="1.3"/><path d="M156.3,300.4 L162.3,310.9 L150.3,310.9 Z" fill="none" stroke="#008000" stroke-width="1.3"/><path d="M160.6,321.8 L166.6,332.2 L154.6,332.2 Z" fill="none" stroke="#008000" stroke-width="1.3"/><path d="M166.0,292.9 L172.0,303.4 L160.0,303.4 Z" fill="none" stroke="#008000" stroke-width="1.3"/><path d="M170.4,297.2 L176.4,307.8 L164.4,307.8 Z" fill="none" stroke="#008000" stroke-width="1.3"/><path d="M177.5,317.8 L183.5,328.2 L171.5,328.2 Z" fill="none" stroke="#008000" stroke-width="1.3"/><path d="M182.9,321.6 L188.9,332.1 L176.9,332.1 Z" fill="none" stroke="#008000" stroke-width="1.3"/><path d="M195.8,321.4 L201.8,331.9 L189.8,331.9 Z" fill="none" stroke="#008000" stroke-width="1.3"/><path d="M214.4,301.6 L220.4,312.1 L208.4,312.1 Z" fill="none" stroke="#008000" stroke-width="1.3"/><path d="M228.0,287.1 L234.0,297.6 L222.0,297.6 Z" fill="none" stroke="#008000" stroke-width="1.3"/><path d="M234.6,279.1 L240.6,289.6 L228.6,289.6 Z" fill="none" stroke="#008000" stroke-width="1.3"/><path d="M241.2,277.8 L247.2,288.2 L235.2,288.2 Z" fill="none" stroke="#008000" stroke-width="1.3"/><path d="M253.2,309.6 L259.2,320.1 L247.2,320.1 Z" fill="none" stroke="#008000" stroke-width="1.3"/><path d="M257.1,263.2 L263.1,273.8 L251.1,273.8 Z" fill="none" stroke="#008000" stroke-width="1.3"/><path d="M263.8,251.2 L269.8,261.8 L257.8,261.8 Z" fill="none" stroke="#008000" stroke-width="1.3"/><path d="M266.4,232.8 L272.4,243.2 L260.4,243.2 Z" fill="none" stroke="#008000" stroke-width="1.3"/><path d="M270.3,203.7 L276.3,214.2 L264.3,214.2 Z" fill="none" stroke="#008000" stroke-width="1.3"/><path d="M274.9,224.4 L280.9,234.9 L268.9,234.9 Z" fill="none" stroke="#008000" stroke-width="1.3"/><path d="M280.6,140.8 L286.6,151.2 L274.6,151.2 Z" fill="none" stroke="#008000" stroke-width="1.3"/><path d="M289.9,132.4 L295.9,142.9 L283.9,142.9 Z" fill="none" stroke="#008000" stroke-width="1.3"/><path d="M295.2,93.8 L301.2,104.2 L289.2,104.2 Z" fill="none" stroke="#008000" stroke-width="1.3"/><path d="M299.0,98.8 L305.0,109.2 L293.0,109.2 Z" fill="none" stroke="#008000" stroke-width="1.3"/><path d="M312.6,117.5 L318.6,128.1 L306.6,128.1 Z" fill="none" stroke="#008000" stroke-width="1.3"/><path d="M317.7,148.8 L323.7,159.2 L311.7,159.2 Z" fill="none" stroke="#008000" stroke-width="1.3"/><path d="M322.0,159.8 L328.0,170.2 L316.0,170.2 Z" fill="none" stroke="#008000" stroke-width="1.3"/><path d="M325.3,184.2 L331.3,194.8 L319.3,194.8 Z" fill="none" stroke="#008000" stroke-width="1.3"/><path d="M329.5,207.1 L335.5,217.6 L323.5,217.6 Z" fill="none" stroke="#008000" stroke-width="1.3"/><path d="M335.4,223.1 L341.4,233.6 L329.4,233.6 Z" fill="none" stroke="#008000" stroke-width="1.3"/><path d="M338.7,270.9 L344.7,281.4 L332.7,281.4 Z" fill="none" stroke="#008000" stroke-width="1.3"/><path d="M344.7,278.1 L350.7,288.6 L338.7,288.6 Z" fill="none" stroke="#008000" stroke-width="1.3"/><path d="M348.8,262.2 L354.8,272.8 L342.8,272.8 Z" fill="none" stroke="#008000" stroke-width="1.3"/><path d="M362.0,311.6 L368.0,322.1 L356.0,322.1 Z" fill="none" stroke="#008000" stroke-width="1.3"/><path d="M372.9,275.9 L378.9,286.4 L366.9,286.4 Z" fill="none" stroke="#008000" stroke-width="1.3"/><path d="M387.8,257.9 L393.8,268.4 L381.8,268.4 Z" fill="none" stroke="#008000" stroke-width="1.3"/><path d="M398.0,245.8 L404.0,256.2 L392.0,256.2 Z" fill="none" stroke="#008000" stroke-width="1.3"/><path d="M403.7,260.8 L409.7,271.2 L397.7,271.2 Z" fill="none" stroke="#008000" stroke-width="1.3"/><path d="M412.4,268.1 L418.4,278.6 L406.4,278.6 Z" fill="none" stroke="#008000" stroke-width="1.3"/><path d="M427.2,243.8 L433.2,254.2 L421.2,254.2 Z" fill="none" stroke="#008000" stroke-width="1.3"/><path d="M431.2,292.6 L437.2,303.1 L425.2,303.1 Z" fill="none" stroke="#008000" stroke-width="1.3"/><path d="M438.4,279.6 L444.4,290.1 L432.4,290.1 Z" fill="none" stroke="#008000" stroke-width="1.3"/><path d="M450.1,335.1 L456.1,345.6 L444.1,345.6 Z" fill="none" stroke="#008000" stroke-width="1.3"/><path d="M466.3,314.6 L472.3,325.1 L460.3,325.1 Z" fill="none" stroke="#008000" stroke-width="1.3"/><path d="M479.5,280.8 L485.5,291.2 L473.5,291.2 Z" fill="none" stroke="#008000" stroke-width="1.3"/><path d="M492.2,280.8 L498.2,291.2 L486.2,291.2 Z" fill="none" stroke="#008000" stroke-width="1.3"/><path d="M513.9,301.6 L519.9,312.1 L507.9,312.1 Z" fill="none" stroke="#008000" stroke-width="1.3"/><path d="M518.2,331.9 L524.2,342.4 L512.2,342.4 Z" fill="none" stroke="#008000" stroke-width="1.3"/></g><path d="M86.20,358.7 v-3.4 M86.20,6.75 v3.4 M102.27,358.7 v-3.4 M102.27,6.75 v3.4 M118.33,358.7 v-6.5 M118.33,6.75 v6.5 M134.40,358.7 v-3.4 M134.40,6.75 v3.4 M150.47,358.7 v-3.4 M150.47,6.75 v3.4 M166.53,358.7 v-3.4 M166.53,6.75 v3.4 M182.60,358.7 v-3.4 M182.60,6.75 v3.4 M198.67,358.7 v-6.5 M198.67,6.75 v6.5 M214.73,358.7 v-3.4 M214.73,6.75 v3.4 M230.80,358.7 v-3.4 M230.80,6.75 v3.4 M246.87,358.7 v-3.4 M246.87,6.75 v3.4 M262.93,358.7 v-3.4 M262.93,6.75 v3.4 M279.00,358.7 v-6.5 M279.00,6.75 v6.5 M295.07,358.7 v-3.4 M295.07,6.75 v3.4 M311.13,358.7 v-3.4 M311.13,6.75 v3.4 M327.20,358.7 v-3.4 M327.20,6.75 v3.4 M343.27,358.7 v-3.4 M343.27,6.75 v3.4 M359.33,358.7 v-6.5 M359.33,6.75 v6.5 M375.40,358.7 v-3.4 M375.40,6.75 v3.4 M391.47,358.7 v-3.4 M391.47,6.75 v3.4 M407.53,358.7 v-3.4 M407.53,6.75 v3.4 M423.60,358.7 v-3.4 M423.60,6.75 v3.4 M439.67,358.7 v-6.5 M439.67,6.75 v6.5 M455.73,358.7 v-3.4 M455.73,6.75 v3.4 M471.80,358.7 v-3.4 M471.80,6.75 v3.4 M487.87,358.7 v-3.4 M487.87,6.75 v3.4 M503.93,358.7 v-3.4 M503.93,6.75 v3.4 M520.00,358.7 v-6.5 M520.00,6.75 v6.5 M86.2,358.70 h6.5 M520.0,358.70 h-6.5 M86.2,337.51 h3.4 M520.0,337.51 h-3.4 M86.2,325.12 h3.4 M520.0,325.12 h-3.4 M86.2,316.32 h3.4 M520.0,316.32 h-3.4 M86.2,309.50 h3.4 M520.0,309.50 h-3.4 M86.2,303.93 h3.4 M520.0,303.93 h-3.4 M86.2,299.21 h3.4 M520.0,299.21 h-3.4 M86.2,295.13 h3.4 M520.0,295.13 h-3.4 M86.2,291.53 h3.4 M520.0,291.53 h-3.4 M86.2,288.31 h6.5 M520.0,288.31 h-6.5 M86.2,267.12 h3.4 M520.0,267.12 h-3.4 M86.2,254.73 h3.4 M520.0,254.73 h-3.4 M86.2,245.93 h3.4 M520.0,245.93 h-3.4 M86.2,239.11 h3.4 M520.0,239.11 h-3.4 M86.2,233.54 h3.4 M520.0,233.54 h-3.4 M86.2,228.82 h3.4 M520.0,228.82 h-3.4 M86.2,224.74 h3.4 M520.0,224.74 h-3.4 M86.2,221.14 h3.4 M520.0,221.14 h-3.4 M86.2,217.92 h6.5 M520.0,217.92 h-6.5 M86.2,196.73 h3.4 M520.0,196.73 h-3.4 M86.2,184.34 h3.4 M520.0,184.34 h-3.4 M86.2,175.54 h3.4 M520.0,175.54 h-3.4 M86.2,168.72 h3.4 M520.0,168.72 h-3.4 M86.2,163.15 h3.4 M520.0,163.15 h-3.4 M86.2,158.43 h3.4 M520.0,158.43 h-3.4 M86.2,154.35 h3.4 M520.0,154.35 h-3.4 M86.2,150.75 h3.4 M520.0,150.75 h-3.4 M86.2,147.53 h6.5 M520.0,147.53 h-6.5 M86.2,126.34 h3.4 M520.0,126.34 h-3.4 M86.2,113.95 h3.4 M520.0,113.95 h-3.4 M86.2,105.15 h3.4 M520.0,105.15 h-3.4 M86.2,98.33 h3.4 M520.0,98.33 h-3.4 M86.2,92.76 h3.4 M520.0,92.76 h-3.4 M86.2,88.04 h3.4 M520.0,88.04 h-3.4 M86.2,83.96 h3.4 M520.0,83.96 h-3.4 M86.2,80.36 h3.4 M520.0,80.36 h-3.4 M86.2,77.14 h6.5 M520.0,77.14 h-6.5 M86.2,55.95 h3.4 M520.0,55.95 h-3.4 M86.2,43.56 h3.4 M520.0,43.56 h-3.4 M86.2,34.76 h3.4 M520.0,34.76 h-3.4 M86.2,27.94 h3.4 M520.0,27.94 h-3.4 M86.2,22.37 h3.4 M520.0,22.37 h-3.4 M86.2,17.65 h3.4 M520.0,17.65 h-3.4 M86.2,13.57 h3.4 M520.0,13.57 h-3.4 M86.2,9.97 h3.4 M520.0,9.97 h-3.4 M86.2,6.75 h0" stroke="#000" stroke-width="1.8" fill="none"/><rect x="86.2" y="6.75" width="433.8" height="351.95" fill="none" stroke="#000" stroke-width="2"/><text x="79" y="364.6" text-anchor="end" font-size="16.5" font-weight="bold">1.0E+1</text><text x="79" y="294.2" text-anchor="end" font-size="16.5" font-weight="bold">1.0E+2</text><text x="79" y="223.8" text-anchor="end" font-size="16.5" font-weight="bold">1.0E+3</text><text x="79" y="153.4" text-anchor="end" font-size="16.5" font-weight="bold">1.0E+4</text><text x="79" y="83.0" text-anchor="end" font-size="16.5" font-weight="bold">1.0E+5</text><text x="79" y="12.7" text-anchor="end" font-size="16.5" font-weight="bold">1.0E+6</text><text x="118.3" y="379.5" text-anchor="middle" font-size="16.5" font-weight="bold">645</text><text x="198.7" y="379.5" text-anchor="middle" font-size="16.5" font-weight="bold">650</text><text x="279.0" y="379.5" text-anchor="middle" font-size="16.5" font-weight="bold">655</text><text x="359.3" y="379.5" text-anchor="middle" font-size="16.5" font-weight="bold">660</text><text x="439.7" y="379.5" text-anchor="middle" font-size="16.5" font-weight="bold">665</text><text x="520.0" y="379.5" text-anchor="middle" font-size="16.5" font-weight="bold">670</text><text x="303.4" y="410.8" text-anchor="middle" font-size="20" font-weight="bold">Wavelength [nm]</text><text transform="translate(14.8,173.6) rotate(-90)" text-anchor="middle" font-size="20" font-weight="bold">Intensity [a.u.]</text><text x="98" y="35.6" font-size="18" font-weight="bold">SN 146695</text><text x="98" y="58" font-size="18" font-weight="bold">R=3.597 m</text><text x="284.3" y="30.2" font-size="17.5" font-weight="bold">H<tspan font-weight="normal" font-size="19">α</tspan></text><text x="152" y="190" font-size="18" font-weight="bold">OV</text><text x="470" y="176.7" font-size="18" font-weight="bold">HeI</text><rect x="363.6" y="19.2" width="143.5" height="71.6" fill="#fff" stroke="#808080" stroke-width="1.4"/><line x1="366" y1="32.1" x2="406.5" y2="32.1" stroke="#ff0000" stroke-width="1.6"/><circle cx="386.4" cy="32.1" r="5.2" fill="none" stroke="#ff0000" stroke-width="1.3"/><text x="412" y="39.1" font-size="18.1" font-weight="bold" fill="#ff0000" style="color:#ff0000">NB #4 OFF</text><line x1="366" y1="55.6" x2="406.5" y2="55.6" stroke="#0000ff" stroke-width="1.6"/><rect x="381.79999999999995" y="51.0" width="9.2" height="9.2" rx="1" fill="none" stroke="#0000ff" stroke-width="1.3"/><text x="412" y="62.6" font-size="18.1" font-weight="bold" fill="#0000ff" style="color:#0000ff">NB #4 ON</text><line x1="366" y1="78.9" x2="406.5" y2="78.9" stroke="#008000" stroke-width="1.6"/><path d="M386.4,71.7 L392.7,82.10000000000001 L380.09999999999997,82.10000000000001 Z" fill="none" stroke="#008000" stroke-width="1.3"/><text x="412" y="85.9" font-size="18.1" font-weight="bold" fill="#008000" style="color:#008000">FIDA</text></svg></body></html>
